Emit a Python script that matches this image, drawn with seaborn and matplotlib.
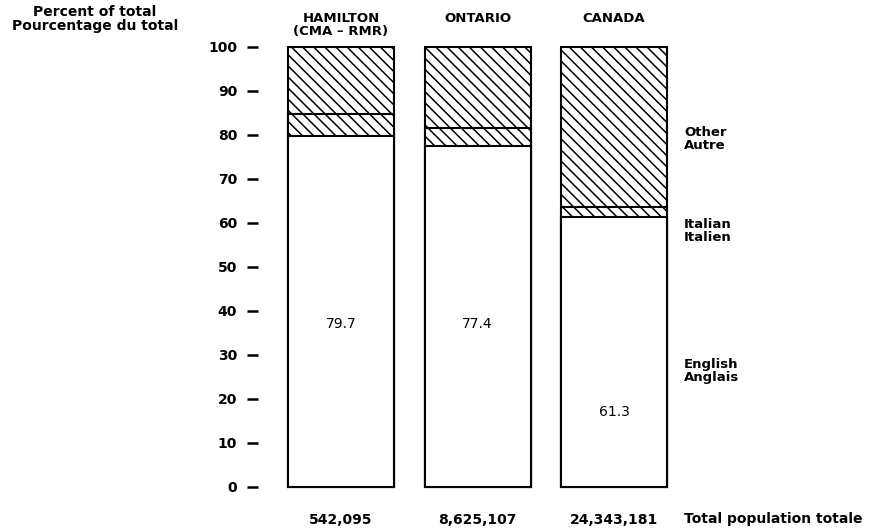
import matplotlib
matplotlib.use("Agg")
import matplotlib.pyplot as plt
import seaborn as sns
import pandas as pd

# data
regions = ["HAMILTON\n(CMA \u2013 RMR)", "ONTARIO", "CANADA"]
english = [79.7, 77.4, 61.3]
italian = [5.0, 4.1, 2.3]
other = [15.3, 18.5, 36.4]
population = ["542,095", "8,625,107", "24,343,181"]
yticks = [0, 10, 20, 30, 40, 50, 60, 70, 80, 90, 100]

df = pd.DataFrame({"region": regions, "english": english,
                   "italian": italian, "other": other})
df["eng_ita"] = df["english"] + df["italian"]
df["total"] = df["eng_ita"] + df["other"]

sns.set_style("white")
plt.rcParams["font.family"] = ["DejaVu Sans"]
plt.rcParams["hatch.linewidth"] = 1.1
plt.rcParams["text.color"] = "black"
plt.rcParams["xtick.color"] = "black"
plt.rcParams["ytick.color"] = "black"

W, H = 881, 532
fig = plt.figure(figsize=(W / 100, H / 100), dpi=100)
ax = fig.add_axes([258 / W, (H - 487) / H, (700 - 258) / W, 440 / H])

bw = 106 / 136.5
common = dict(x="region", order=regions, width=bw, edgecolor="black",
              linewidth=1.5, errorbar=None, ax=ax, clip_on=False)
# stacked by overdrawing cumulative totals
sns.barplot(data=df, y="total", color="white", hatch="\\\\\\", **common)
sns.barplot(data=df, y="eng_ita", color="white", hatch="\\\\\\", **common)
sns.barplot(data=df, y="english", color="white", **common)

ax.set_xlim(-(341 - 258) / 136.5, (700 - 341) / 136.5)
ax.set_ylim(0, 100)
for s in ax.spines.values():
    s.set_visible(False)

ax.set_yticks(yticks)
ax.set_yticklabels([str(t) for t in yticks], fontsize=10, fontweight="bold")
ax.tick_params(axis="y", direction="out", length=8, width=1.8, pad=7, left=True)
ax.set_xticks(range(len(regions)))
ax.set_xticklabels(population, fontsize=10, fontweight="bold")
ax.tick_params(axis="x", length=0, pad=19)
ax.set_xlabel("")
ax.set_ylabel("")

# region headers
for i, r in enumerate(regions):
    ax.text(i, 108, r, ha="center", va="top", fontsize=9.5,
            fontweight="bold", linespacing=1.0, clip_on=False)

# value labels inside English segment
label_y = [37, 37, 17]
for i, v in enumerate(english):
    ax.text(i, label_y[i], f"{v}", ha="center", va="center", fontsize=10)

# legend-like labels to the right
xr = (684 - 341) / 136.5
ax.text(xr, 79, "Other\nAutre", ha="left", va="center", fontsize=9.5,
        fontweight="bold", linespacing=1.0, clip_on=False)
ax.text(xr, 58.2, "Italian\nItalien", ha="left", va="center", fontsize=9.5,
        fontweight="bold", linespacing=1.0, clip_on=False)
ax.text(xr, 26.4, "English\nAnglais", ha="left", va="center", fontsize=9.5,
        fontweight="bold", linespacing=1.0, clip_on=False)

fig.text(684 / W, (H - 519) / H, "Total population totale", ha="left",
         va="center", fontsize=10, fontweight="bold")
fig.text(95 / W, 1 - 5 / H, "Percent of total\nPourcentage du total",
         ha="center", va="top", fontsize=10, fontweight="bold", linespacing=1.0)

fig.savefig("out.png", dpi=100)
